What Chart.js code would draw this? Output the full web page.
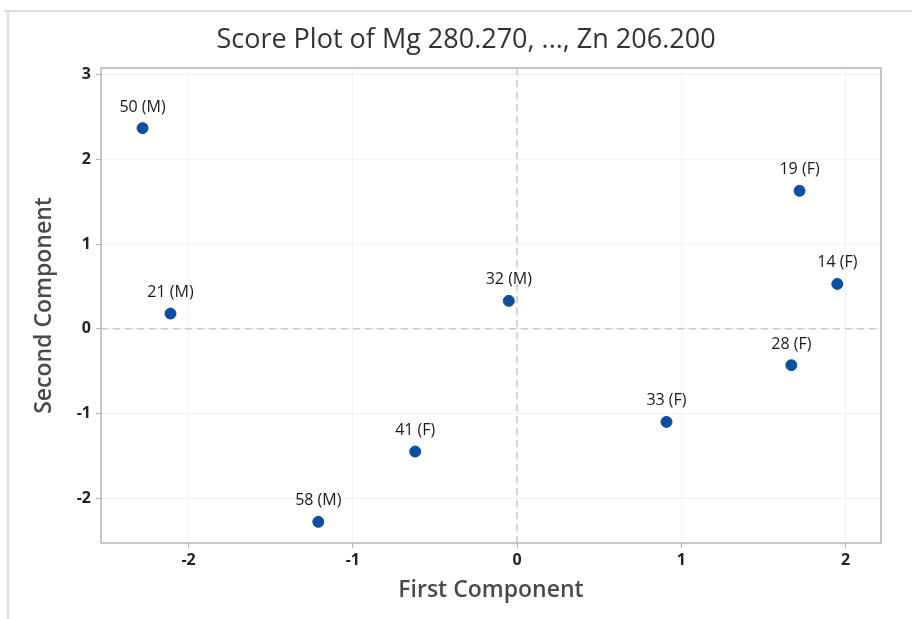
<!DOCTYPE html>
<html>
<head>
<meta charset="utf-8">
<script src="https://cdn.jsdelivr.net/npm/chart.js@4"></script>
<style>
    body { margin: 0; background: #fff; }
    #wrap { width: 912px; height: 619px; position: relative; }
</style>
</head>
<body>
<div id="wrap"><canvas id="scoreChart" width="912" height="619"></canvas></div>
<script>
// Score plot data
const pointLabels = ['50 (M)', '21 (M)', '32 (M)', '19 (F)', '14 (F)', '28 (F)', '33 (F)', '41 (F)', '58 (M)'];
const firstComp = [-2.28, -2.11, -0.05, 1.72, 1.95, 1.67, 0.91, -0.62, -1.21];
const secondComp = [2.37, 0.18, 0.33, 1.63, 0.53, -0.43, -1.10, -1.45, -2.28];
const xTicks = [-2, -1, 0, 1, 2];
const yTicks = [-2, -1, 0, 1, 2, 3];
const chartTitle = 'Score Plot of Mg 280.270, ..., Zn 206.200';

const FONT = "'Open Sans', 'DejaVu Sans', sans-serif";

// frame, title, plot border, zero reference lines and point labels
const decorations = {
    id: 'decorations',
    beforeDraw(chart) {
        const ctx = chart.ctx;
        ctx.save();
        ctx.fillStyle = '#fff';
        ctx.fillRect(0, 0, chart.width, chart.height);
        ctx.strokeStyle = '#dcdcdc';
        ctx.lineWidth = 2;
        ctx.beginPath();
        ctx.moveTo(4, 11);
        ctx.lineTo(chart.width, 11);
        ctx.moveTo(8, 11);
        ctx.lineTo(8, chart.height);
        ctx.stroke();
        // title sits a bit right of the canvas centre, like the original
        ctx.font = '27px ' + FONT;
        ctx.fillStyle = '#333';
        ctx.textAlign = 'center';
        ctx.textBaseline = 'middle';
        ctx.fillText(chartTitle, 466, 40);
        ctx.restore();
    },
    beforeDatasetsDraw(chart) {
        const ctx = chart.ctx;
        const area = chart.chartArea;
        const x0 = chart.scales.x.getPixelForValue(0);
        const y0 = chart.scales.y.getPixelForValue(0);
        ctx.save();
        ctx.strokeStyle = '#c8c8c8';
        ctx.lineWidth = 1.5;
        ctx.setLineDash([7, 5]);
        ctx.beginPath();
        ctx.moveTo(x0, area.top);
        ctx.lineTo(x0, area.bottom);
        ctx.moveTo(area.left, y0);
        ctx.lineTo(area.right, y0);
        ctx.stroke();
        ctx.setLineDash([]);
        ctx.strokeStyle = '#b4b4b4';
        ctx.lineWidth = 1.5;
        ctx.strokeRect(area.left, area.top, area.right - area.left, area.bottom - area.top);
        ctx.restore();
    },
    afterDatasetsDraw(chart) {
        const ctx = chart.ctx;
        const meta = chart.getDatasetMeta(0);
        ctx.save();
        ctx.font = '16px ' + FONT;
        ctx.fillStyle = '#1a1a1a';
        ctx.textAlign = 'center';
        ctx.textBaseline = 'middle';
        meta.data.forEach((pt, i) => {
            ctx.fillText(pointLabels[i], pt.x, pt.y - 21);
        });
        ctx.restore();
    }
};

const ctx = document.getElementById('scoreChart').getContext('2d');

new Chart(ctx, {
    type: 'scatter',
    data: {
        datasets: [{
            data: firstComp.map((v, i) => ({ x: v, y: secondComp[i] })),
            backgroundColor: '#0b4f9e',
            borderColor: '#0b4f9e',
            pointRadius: 5.5,
            pointHoverRadius: 5.5
        }]
    },
    options: {
        responsive: false,
        animation: false,
        layout: { padding: { left: 10, right: 31, top: 68, bottom: 10 } },
        plugins: {
            legend: { display: false },
            tooltip: { enabled: false },
            title: { display: false }
        },
        scales: {
            x: {
                type: 'linear',
                min: -2.533,
                max: 2.216,
                afterBuildTicks: s => { s.ticks = xTicks.map(v => ({ value: v })); },
                afterFit: s => { s.height = 66; },
                grid: { color: '#f2f2f2', tickColor: '#b4b4b4', tickLength: 5, lineWidth: 1 },
                border: { display: false },
                ticks: {
                    color: '#222',
                    padding: 3,
                    font: { family: FONT, size: 16, weight: 'bold' }
                },
                title: {
                    display: true,
                    text: 'First Component',
                    color: '#4a4a4a',
                    padding: { top: 0, bottom: 5 },
                    font: { family: FONT, size: 23, weight: '600' }
                }
            },
            y: {
                type: 'linear',
                min: -2.53,
                max: 3.08,
                afterBuildTicks: s => { s.ticks = yTicks.map(v => ({ value: v })); },
                afterFit: s => { s.width = 91; },
                grid: { color: '#f2f2f2', tickColor: '#b4b4b4', tickLength: 5, lineWidth: 1 },
                border: { display: false },
                ticks: {
                    color: '#222',
                    padding: 5,
                    font: { family: FONT, size: 16, weight: 'bold' }
                },
                title: {
                    display: true,
                    text: 'Second Component',
                    color: '#4a4a4a',
                    padding: { top: 21, bottom: 0 },
                    font: { family: FONT, size: 23, weight: '600' }
                }
            }
        }
    },
    plugins: [decorations]
});
</script>
</body>
</html>
